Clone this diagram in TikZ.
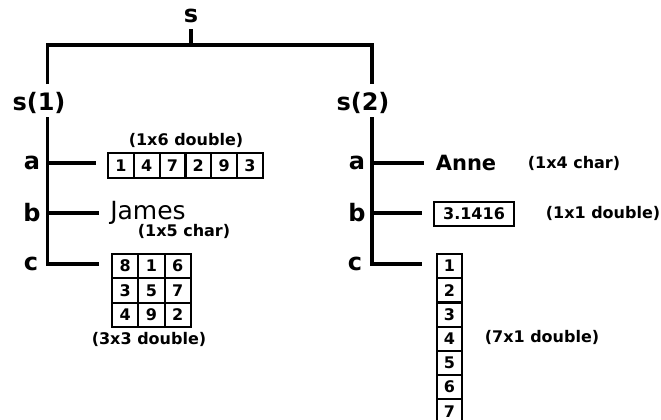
\documentclass[tikz,border=0pt]{standalone}
\usepackage{fontspec}
\setmainfont{DejaVu Sans}
\usetikzlibrary{positioning}

\begin{document}
\begin{tikzpicture}[x=1pt,y=-1pt,
	tree/.style={line width=3.2pt},
	cell/.style={draw,line width=2.2pt,inner sep=0pt,minimum width=25.8pt,minimum height=24.3pt,font=\fontsize{16}{16}\selectfont\bfseries},
	lbl/.style={inner sep=1pt,font=\fontsize{24}{24}\selectfont\bfseries},
	note/.style={inner sep=1pt,font=\fontsize{16}{16}\selectfont\bfseries}]
	\useasboundingbox (0,0) rectangle (661,420);

	% root and the two elements
	\node[lbl] (s) at (191,16) {s};
	\node[lbl] (s1) at (39,103) {s(1)};
	\node[lbl] (s2) at (363,103) {s(2)};
	\coordinate (top) at (191,45);
	\coordinate (stem1) at (47.5,84);
	\coordinate (stem2) at (372,84);
	\coordinate (j1) at (47.5,117);
	\coordinate (j2) at (372,117);
	\draw[tree,shorten <=5pt] (s.south) -- (top);
	\draw[tree] (stem1) -- (stem1 |- top) -- (stem2 |- top) -- (stem2);

	% fields of s(1)
	\node[lbl] (a1) at (32,163) {a};
	\node[lbl] (b1) at (32,213) {b};
	\node[lbl] (c1) at (31,264) {c};
	\foreach \v [count=\i] in {1,4,7,2,9,3}
		\node[cell] (m-\i) at (95.1+25.8*\i,165.5) {\v};
	\node[note] (m-size) at (186,140) {(1x6 double)};
	\node[inner sep=1pt,font=\fontsize{25}{25}\selectfont] (james) at (148,213) {James};
	\node[note] (james-size) at (184,231) {(1x5 char)};
	\foreach \row [count=\i] in {{8,1,6},{3,5,7},{4,9,2}}
		\foreach \v [count=\j] in \row
			\node[cell,minimum width=26.3pt] (g-\i-\j) at (98.85+26.3*\j,241.85+24.3*\i) {\v};
	\node[note] (g-size) at (149,339) {(3x3 double)};
	\draw[tree,shorten >=11pt] (j1 |- a1) -- (a1 -| m-1.west);
	\draw[tree,shorten >=10pt] (j1 |- b1) -- (b1 -| james.west);
	\draw[tree,shorten >=12pt] (j1) |- (c1 -| g-1-1.west);

	% fields of s(2)
	\node[lbl] (a2) at (357,163) {a};
	\node[lbl] (b2) at (357,213) {b};
	\node[lbl] (c2) at (355,264) {c};
	\node[inner sep=1pt,font=\fontsize{21}{21}\selectfont\bfseries] (anne) at (466,163) {Anne};
	\node[note] (anne-size) at (574,163) {(1x4 char)};
	\node[cell,minimum width=80pt,minimum height=24pt] (pi) at (474,214) {3.1416};
	\node[note] (pi-size) at (603,213) {(1x1 double)};
	\foreach \v in {1,...,7}
		\node[cell,minimum width=25pt,minimum height=24.2pt] (v-\v) at (449.5,241.9+24.2*\v) {\v};
	\node[note] (v-size) at (542,337) {(7x1 double)};
	\draw[tree,shorten >=11pt] (j2 |- a2) -- (a2 -| anne.west);
	\draw[tree,shorten >=11pt] (j2 |- b2) -- (b2 -| pi.west);
	\draw[tree,shorten >=14pt] (j2) |- (c2 -| v-1.west);
\end{tikzpicture}
\end{document}
